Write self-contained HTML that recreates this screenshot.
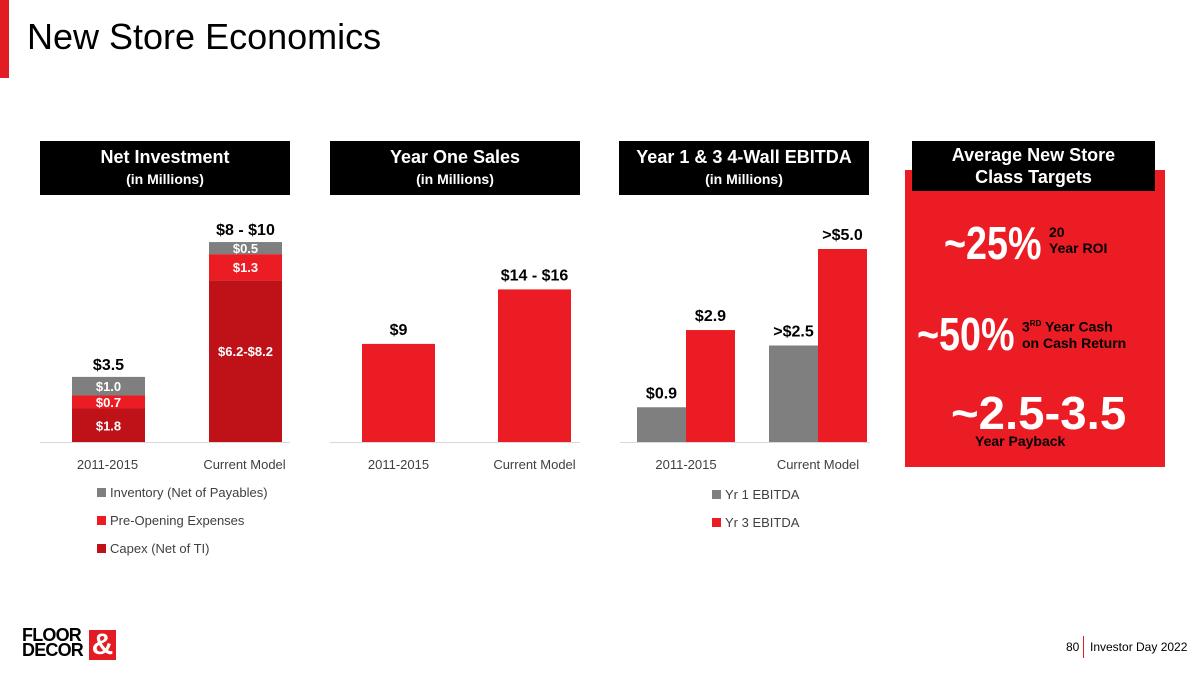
<!DOCTYPE html>
<html><head><meta charset="utf-8"><style>
body{margin:0;width:1200px;height:675px;background:#fff;position:relative;overflow:hidden;font-family:"Liberation Sans",sans-serif}
.a{position:absolute}
.hdr{position:absolute;background:#000;color:#fff;text-align:center;font-weight:bold;top:141px;height:54px}
.hdr .t{font-size:18px;margin-top:6px}
.hdr .s{font-size:14px;margin-top:3px}
.big{font-weight:bold;color:#fff;transform-origin:0 0;transform:scaleX(0.82);white-space:nowrap}
</style></head><body>
<div class="a" style="left:0;top:0;width:9px;height:78px;background:#e31b23"></div>
<div class="a" style="left:27px;top:16px;font-size:36px;color:#000">New Store Economics</div>

<div class="hdr" style="left:40px;width:250px"><div class="t">Net Investment</div><div class="s">(in Millions)</div></div>
<div class="hdr" style="left:330px;width:250px"><div class="t">Year One Sales</div><div class="s">(in Millions)</div></div>
<div class="hdr" style="left:619px;width:250px"><div class="t">Year 1 &amp; 3 4-Wall EBITDA</div><div class="s">(in Millions)</div></div>

<div class="a" style="left:905px;top:170px;width:260px;height:297px;background:#ec1c24"></div>
<div class="hdr" style="left:912px;width:243px;height:50px;font-size:18px;line-height:22px;padding-top:3px;box-sizing:border-box">Average New Store<br>Class Targets</div>
<div class="a big" style="left:944px;top:216px;font-size:46px">~25%</div>
<div class="a" style="left:1049px;top:224px;font-size:14px;font-weight:bold;line-height:16px">20<br>Year ROI</div>
<div class="a big" style="left:917px;top:307px;font-size:46px">~50%</div>
<div class="a" style="left:1022px;top:316px;font-size:14px;font-weight:bold;line-height:16px">3<sup style="font-size:8px">RD</sup> Year Cash<br>on Cash Return</div>
<div class="a big" style="left:951px;top:386px;font-size:46px;transform:scaleX(1.03)">~2.5-3.5</div>
<div class="a" style="left:975px;top:433px;font-size:14px;font-weight:bold">Year Payback</div>

<svg class="a" style="left:0;top:0" width="1200" height="675" id="svg" font-family="Liberation Sans, sans-serif"></svg>

<div class="a" style="left:22px;top:628px;font-size:18px;font-weight:900;line-height:15px;letter-spacing:-0.8px">FLOOR<br>DECOR</div>
<div class="a" style="left:89px;top:630px;width:27px;height:30px;background:#e31b23;color:#fff;font-size:30px;font-weight:bold;line-height:30px;text-align:center">&amp;</div>
<div class="a" style="left:1066px;top:640px;font-size:12px">80</div>
<div class="a" style="left:1083px;top:636px;width:1px;height:22px;background:#e31b23"></div>
<div class="a" style="left:1090px;top:640px;font-size:12px">Investor Day 2022</div>

<script>
const cats=["2011-2015","Current Model"];
const capex=[1.8,8.7], preOpen=[0.7,1.4], inventory=[1.0,0.65];
const capexLbl=["$1.8","$6.2-$8.2"], preLbl=["$0.7","$1.3"], invLbl=["$1.0","$0.5"], totLbl=["$3.5","$8 - $10"];
const sales=[9,14], salesLbl=["$9","$14 - $16"];
const yr1=[0.9,2.5], yr3=[2.9,5.0], yr1Lbl=["$0.9",">$2.5"], yr3Lbl=["$2.9",">$5.0"];
const legend1=["Inventory (Net of Payables)","Pre-Opening Expenses","Capex (Net of TI)"];
const legend3=["Yr 1 EBITDA","Yr 3 EBITDA"];
const svg=document.getElementById('svg'),NS="http://www.w3.org/2000/svg";
const BASE=442;
function mk(t,a,txt){const e=document.createElementNS(NS,t);for(const k in a)e.setAttribute(k,a[k]);if(txt!=null)e.textContent=txt;svg.appendChild(e);return e;}
function y1(v){return BASE-v*18.6} function y2(v){return BASE-v*10.9} function y3(v){return BASE-v*38.6}
[[40,290],[330,580],[620,870]].forEach((r,i)=>{const l=mk('line',{x1:r[0],x2:r[1],y1:BASE+0.5,y2:BASE+0.5,stroke:'#d9d9d9'});

});
const bx1=[72,209],bw=73;
cats.forEach((c,i)=>{
 let b=0;const segs=[[capex,'#be1218',capexLbl],[preOpen,'#ec1c24',preLbl],[inventory,'#7f7f7f',invLbl]];
 segs.forEach((s,j)=>{const v=s[0][i];const top=y1(b+v),bot=y1(b);
  const r=mk('rect',{x:bx1[i],y:top,width:bw,height:bot-top,fill:s[1]});
  
  
  const cy=(j==0&&i==1)?(top+bot)/2-10:(top+bot)/2;
  const t=mk('text',{x:bx1[i]+bw/2,y:cy+5,'text-anchor':'middle','font-size':13,'font-weight':'bold',fill:'#fff'},s[2][i]);
  
  
  b+=v;});
 const t=mk('text',{x:bx1[i]+bw/2,y:y1(b)-7,'text-anchor':'middle','font-size':16,'font-weight':'bold'},totLbl[i]);
 
 
 const c1=mk('text',{x:bx1[i]+bw/2-1,y:469,'text-anchor':'middle','font-size':13,fill:'#404040'},c);
 
 
});
legend1.forEach((n,k)=>{const cols=['#7f7f7f','#ec1c24','#be1218'];
 const r=mk('rect',{x:97,y:488+k*28,width:9,height:9,fill:cols[k]});
 
 
 const t=mk('text',{x:110,y:497+k*28,'font-size':13,fill:'#404040'},n);
 
 });
const bx2=[362,498];
sales.forEach((v,i)=>{const r=mk('rect',{x:bx2[i],y:y2(v),width:bw,height:BASE-y2(v),fill:'#ec1c24'});
 
 
 const t=mk('text',{x:bx2[i]+bw/2,y:y2(v)-9,'text-anchor':'middle','font-size':16,'font-weight':'bold'},salesLbl[i]);
 
 
 const c2=mk('text',{x:bx2[i]+bw/2,y:469,'text-anchor':'middle','font-size':13,fill:'#404040'},cats[i]);
 
 });
const gx=[637,769],w3=49;
cats.forEach((c,i)=>{
 [[yr1,'#7f7f7f',yr1Lbl],[yr3,'#ec1c24',yr3Lbl]].forEach((s,j)=>{const v=s[0][i];const x=gx[i]+j*w3;
  const r=mk('rect',{x:x,y:y3(v),width:w3,height:BASE-y3(v),fill:s[1]});
  
  
  const t=mk('text',{x:x+w3/2,y:y3(v)-9,'text-anchor':'middle','font-size':16,'font-weight':'bold'},s[2][i]);
  
  });
 const c3=mk('text',{x:gx[i]+w3,y:469,'text-anchor':'middle','font-size':13,fill:'#404040'},c);
 
 
});
legend3.forEach((n,k)=>{const cols=['#7f7f7f','#ec1c24'];
 const r=mk('rect',{x:712,y:490+k*28,width:9,height:9,fill:cols[k]});
 
 
 const t=mk('text',{x:725,y:499+k*28,'font-size':13,fill:'#404040'},n);
 
 });
</script>
</body></html>
